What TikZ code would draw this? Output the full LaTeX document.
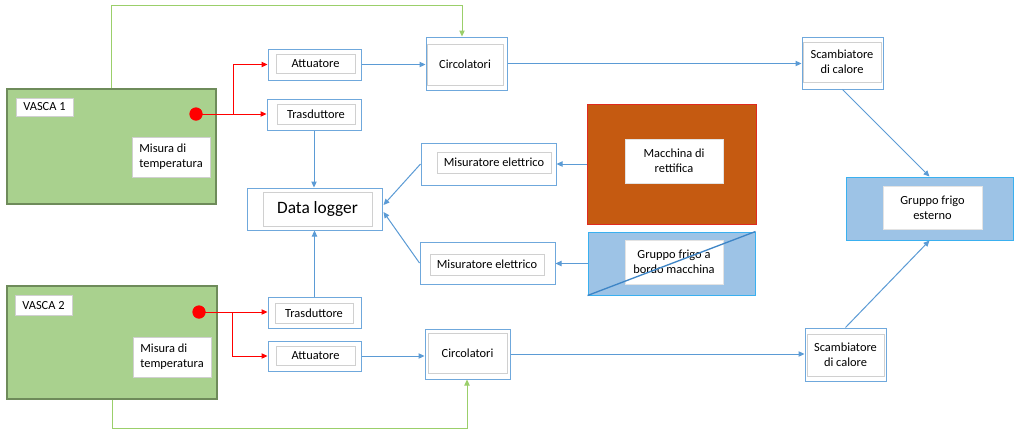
\documentclass[tikz,border=0pt]{standalone}
\usepackage{fontspec}
\setmainfont{Carlito}
\usetikzlibrary{arrows.meta,calc}
\definecolor{lblue}{HTML}{5B9BD5}
\definecolor{boxblue}{HTML}{6FA8DC}
\definecolor{igray}{HTML}{D0D0D0}
\definecolor{vgreen}{HTML}{A9D18E}
\definecolor{vborder}{HTML}{6E8B5A}
\definecolor{gline}{HTML}{9BCF6A}
\definecolor{macfill}{HTML}{C55A11}
\definecolor{macborder}{HTML}{E02A1E}
\definecolor{frfill}{HTML}{9DC3E6}
\definecolor{frborder}{HTML}{3AB0F0}
\definecolor{diag}{HTML}{3E85C6}
\begin{document}
\begin{tikzpicture}[x=0.75pt,y=-0.75pt,
  sz/.style 2 args={minimum width=#1*0.75pt, minimum height=#2*0.75pt, inner sep=0pt},
  outerbox/.style={draw=boxblue, line width=0.75pt, fill=white},
  innerbox/.style={draw=igray, line width=0.75pt, fill=white, font=\fontsize{9.3}{11.3}\selectfont, align=center},
  vasca/.style={draw=vborder, line width=0.9pt, fill=vgreen},
  dot/.style={circle, fill=red, minimum size=13*0.75pt, inner sep=0pt},
  redline/.style={draw=red, line width=0.75pt, -{Triangle[length=4.5pt,width=4pt]}},
  redplain/.style={draw=red, line width=0.75pt},
  blueline/.style={draw=lblue, line width=0.75pt, -{Triangle[length=4.5pt,width=4pt]}},
  greenline/.style={draw=gline, line width=0.75pt, -{Triangle[length=4.5pt,width=4pt]}},
]
\useasboundingbox[fill=white] (0,0) rectangle (1024,437);

% Vasca 1
\node[vasca, sz={209}{115}] (V1) at (111.5,146.5) {};
\node[innerbox, sz={57}{18}] (V1l) at (44.5,107) {VASCA 1};
\node[innerbox, sz={78}{40}, align=left] (V1m) at (171,157) {Misura di\\temperatura};
\node[dot] (D1) at (196,114) {};

% Vasca 2
\node[vasca, sz={210}{113}] (V2) at (112,342.5) {};
\node[innerbox, sz={57}{20}] (V2l) at (43.5,305.5) {VASCA 2};
\node[innerbox, sz={78}{40}, align=left] (V2m) at (172,357) {Misura di\\temperatura};
\node[dot] (D2) at (199,312) {};

% Attuatore / Trasduttore top
\node[outerbox, sz={93}{31}] (A1) at (314.5,64.5) {};
\node[innerbox, sz={79}{19}] at (315.5,63.5) {Attuatore};
\node[outerbox, sz={94}{31}] (T1) at (314,114.5) {};
\node[innerbox, sz={78}{20}] at (316,114) {Trasduttore};

% Attuatore / Trasduttore bottom
\node[outerbox, sz={93}{31}] (T2) at (314.5,312.5) {};
\node[innerbox, sz={78}{20}] at (314,313) {Trasduttore};
\node[outerbox, sz={93}{30}] (A2) at (314.5,356) {};
\node[innerbox, sz={79}{19}] at (315.5,355.5) {Attuatore};

% Circolatori
\node[outerbox, sz={81}{53}] (C1) at (466.5,63.5) {};
\node[innerbox, sz={76}{41}] at (465,64.5) {Circolatori};
\node[outerbox, sz={85}{50}] (C2) at (467.5,354) {};
\node[innerbox, sz={79}{40}] at (467.5,353) {Circolatori};

% Data logger
\node[outerbox, sz={135}{42}] (DL) at (314.5,209) {};
\node[innerbox, sz={109}{34}, font=\fontsize{13}{15}\selectfont] at (317.5,209) {Data logger};

% Misuratori
\node[outerbox, sz={135}{42}] (M1) at (488.5,164) {};
\node[innerbox, sz={114}{21}] at (494,162.5) {Misuratore elettrico};
\node[outerbox, sz={135}{42}] (M2) at (487.5,263) {};
\node[innerbox, sz={114}{21}] at (487,264.5) {Misuratore elettrico};

% Macchina di rettifica
\node[draw=macborder, line width=0.75pt, fill=macfill, sz={169}{120}] (MR) at (671.5,164) {};
\node[innerbox, draw=igray!60, sz={98}{44}] at (674,161) {Macchina di\\rettifica};

% Gruppo frigo a bordo macchina
\node[draw=frborder, line width=0.75pt, fill=frfill, sz={167}{63}] (GB) at (671.5,263.5) {};
\node[innerbox, draw=igray!60, sz={98}{44}] at (674,262) {Gruppo frigo a\\bordo macchina};
\draw[diag, line width=1pt] (GB.south west) -- (GB.north east);

% Scambiatori
\node[outerbox, sz={81}{52}] (S1) at (842.5,63) {};
\node[innerbox, sz={78}{40}] at (842,62) {Scambiatore\\di calore};
\node[outerbox, sz={81}{53}] (S2) at (845.5,354.5) {};
\node[innerbox, sz={77}{42}] at (845.5,355) {Scambiatore\\di calore};

% Gruppo frigo esterno
\node[draw=frborder, line width=0.75pt, fill=frfill, sz={167}{63}] (GE) at (929.5,208.5) {};
\node[innerbox, draw=igray!60, sz={99}{43}] at (932.5,207.5) {Gruppo frigo\\esterno};

% red connectors
\coordinate (J1) at (233,114);
\coordinate (J2) at (232,312);
\draw[redplain] (D1.center) -- (J1);
\draw[redline] (J1) -- (J1 -| T1.west);
\draw[redline] (J1) |- (A1.west);
\draw[redplain] (D2.center) -- (J2);
\draw[redline] (J2) -- (J2 -| T2.west);
\draw[redline] (J2) |- (A2.west);
\node[dot] at (196,114) {};
\node[dot] at (199,312) {};

% green connectors
\coordinate (G1) at (462,5);
\coordinate (G2) at (467,428);
\draw[greenline] (V1.north) |- (G1) -- (G1 |- C1.north);
\draw[greenline] (V2.south) |- (G2) -- (G2 |- C2.south);

% blue connectors
\draw[blueline] (A1.east) -- (A1.east -| C1.west);
\draw[blueline] (C1.east) -- (C1.east -| S1.west);
\draw[blueline] (A2.east) -- (A2.east -| C2.west);
\draw[blueline] (C2.east) -- (C2.east -| S2.west);
\draw[blueline] (T1.south) -- (T1.south |- DL.north);
\draw[blueline] (T2.north) -- (T2.north |- DL.south);
\draw[blueline] (M1.west) -- ($(DL.east)+(1,-4)$);
\draw[blueline] (M2.west) -- ($(DL.east)+(1,3)$);
\draw[blueline] (MR.west) -- (MR.west -| M1.east);
\draw[blueline] (GB.west) -- (GB.west -| M2.east);
\draw[blueline] (S1.south) -- (GE.north);
\draw[blueline] (S2.north) -- (GE.south);
\end{tikzpicture}
\end{document}
